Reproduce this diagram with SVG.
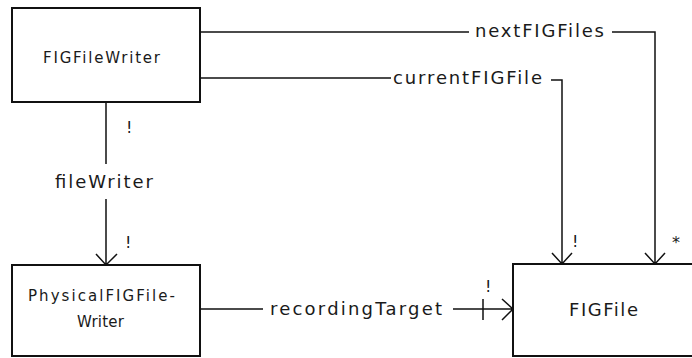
<svg xmlns="http://www.w3.org/2000/svg" width="692" height="358" viewBox="0 0 692 358">
  <defs>
    <style>
      .box { fill: #ffffff; stroke: #111111; stroke-width: 2; }
      .ln { fill: none; stroke: #111111; stroke-width: 1.5; }
      .node { font-family: "DejaVu Sans", "Liberation Sans", sans-serif; font-size: 15px; fill: #1a1a1a; }
      .lbl { font-family: "DejaVu Sans", "Liberation Sans", sans-serif; font-size: 18px; fill: #1a1a1a; }
      .mult { font-family: "DejaVu Sans", "Liberation Sans", sans-serif; font-size: 16px; fill: #1a1a1a; }
    </style>
  </defs>
  <rect width="692" height="358" fill="#ffffff"/>

  <g id="FIGFileWriter">
    <rect class="box" x="12" y="8" width="188" height="94"/>
    <text class="node" x="43" y="63" textLength="117" lengthAdjust="spacing">FIGFileWriter</text>
  </g>

  <g id="PhysicalFIGFileWriter">
    <rect class="box" x="12" y="265" width="188" height="91"/>
    <text class="node" x="28" y="301" textLength="147" lengthAdjust="spacing">PhysicalFIGFile-</text>
    <text class="node" x="77" y="327" textLength="47" lengthAdjust="spacing">Writer</text>
  </g>

  <g id="FIGFile">
    <rect class="box" x="513" y="264" width="200" height="92"/>
    <text class="lbl" x="569" y="316" font-size="19" textLength="69" lengthAdjust="spacing">FIGFile</text>
  </g>

  <g id="connectors">
    <!-- fileWriter -->
    <path class="ln" d="M106 102 V164 M106 199 V265 M96 254 L106 265 L117 254"/>
    <text class="lbl" x="55" y="188" textLength="98" lengthAdjust="spacing">fileWriter</text>
    <text class="mult" x="126" y="133">!</text>
    <text class="mult" x="125" y="248">!</text>

    <!-- nextFIGFiles -->
    <path class="ln" d="M200 32 H469 M612 32 H655 V264 M645 253 L655 264 L665 253"/>
    <text class="lbl" x="475" y="37" textLength="129" lengthAdjust="spacing">nextFIGFiles</text>
    <text class="mult" x="672" y="248" font-size="13">*</text>

    <!-- currentFIGFile -->
    <path class="ln" d="M200 78 H391 M551 80 H562 V264 M552 253 L562 264 L572 253"/>
    <text class="lbl" x="393" y="84" textLength="149" lengthAdjust="spacing">currentFIGFile</text>
    <text class="mult" x="572" y="247">!</text>

    <!-- recordingTarget -->
    <path class="ln" d="M200 309 H263 M453 309 H513 M502 299 L513 309 L502 320 M483 299 V320"/>
    <text class="lbl" x="270" y="315" textLength="172" lengthAdjust="spacing">recordingTarget</text>
    <text class="mult" x="485" y="292">!</text>
  </g>
</svg>
